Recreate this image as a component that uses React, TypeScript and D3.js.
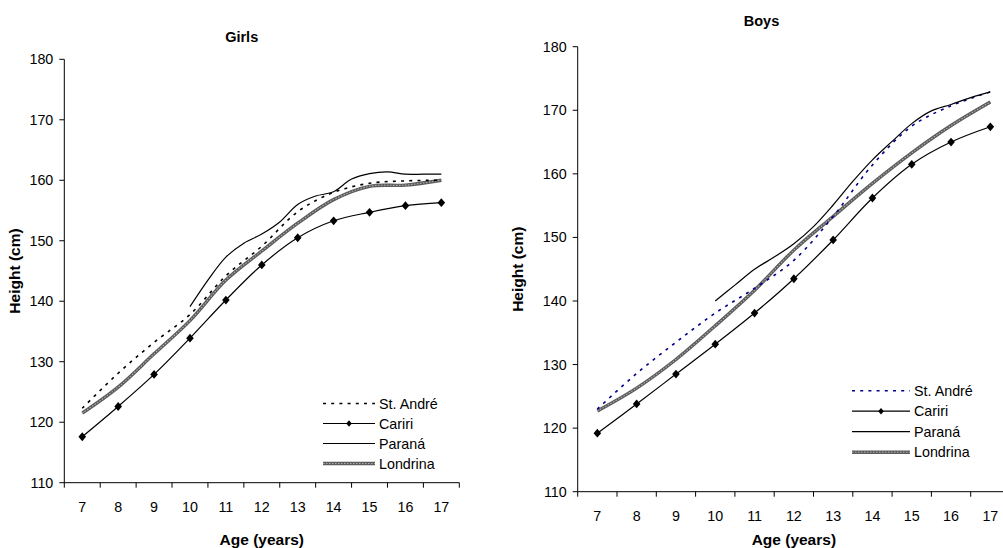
import React from 'react';
import * as d3 from 'd3';

// Ages (years) shown on the x axis
const AGES = [7, 8, 9, 10, 11, 12, 13, 14, 15, 16, 17];
// Paraná curves are read at half-year steps from age 10
const PARANA_AGES = [10, 10.5, 11, 11.5, 12, 12.5, 13, 13.5, 14, 14.5, 15, 15.5, 16, 16.5, 17];
const Y_TICKS = [110, 120, 130, 140, 150, 160, 170, 180];
const SERIES_NAMES = ['St. André', 'Cariri', 'Paraná', 'Londrina'];

// Girls, height (cm)
const GIRLS_ST_ANDRE = [122.3, 128.1, 133.2, 137.8, 144.2, 149.1, 154.8, 158.0, 159.5, 159.9, 160.0];
const GIRLS_CARIRI = [117.6, 122.6, 127.9, 133.9, 140.2, 146.0, 150.5, 153.3, 154.7, 155.8, 156.3];
const GIRLS_PARANA = [139.1, 143.5, 147.3, 149.6, 151.1, 153.1, 156.0, 157.4, 158.1, 160.2, 161.1, 161.4, 161.0, 161.0, 161.0];
const GIRLS_LONDRINA = [121.5, 125.8, 131.3, 136.8, 143.5, 148.3, 152.9, 156.8, 159.0, 159.2, 160.0];

// Boys, height (cm)
const BOYS_ST_ANDRE = [123.0, 128.6, 133.5, 138.1, 142.0, 146.4, 153.3, 161.4, 167.5, 170.7, 172.9];
const BOYS_CARIRI = [119.2, 123.8, 128.5, 133.2, 138.1, 143.5, 149.6, 156.2, 161.5, 165.0, 167.4];
const BOYS_PARANA = [140.0, 142.5, 145.0, 146.9, 149.0, 151.7, 155.1, 158.8, 162.2, 165.1, 167.9, 169.9, 170.9, 172.0, 172.9];
const BOYS_LONDRINA = [122.7, 126.3, 130.8, 136.1, 141.7, 148.0, 153.3, 158.5, 163.3, 167.6, 171.3];

const FONT = "'Liberation Sans', Arial, Helvetica, sans-serif";
const LONDRINA_DARK = '#5c5c5c';
const LONDRINA_LIGHT = '#b0b0b0';

type Pt = [number, number];

const zip = (xs: number[], ys: number[]): Pt[] => xs.map((x, i) => [x, ys[i]]);

function diamond(cx: number, cy: number, hw: number, hh: number) {
  return `M${cx},${cy - hh}L${cx + hw},${cy}L${cx},${cy + hh}L${cx - hw},${cy}Z`;
}

interface PanelProps {
  title: string;
  titleX: number;
  titleY: number;
  left: number;
  right: number;
  top: number;
  bottom: number;
  yLabelX: number;
  legendX: number;
  legendY: number;
  legendLen: number;
  legendStep: number;
  stAndreColor: string;
  stAndre: number[];
  cariri: number[];
  parana: number[];
  londrina: number[];
}

function Panel(p: PanelProps) {
  const x = d3.scaleLinear().domain([6.5, 17.5]).range([p.left, p.right]);
  const y = d3.scaleLinear().domain([110, 180]).range([p.bottom, p.top]);
  const line = d3
    .line<Pt>()
    .x((d) => x(d[0]))
    .y((d) => y(d[1]))
    .curve(d3.curveCatmullRom.alpha(0.5));

  const boundaries = d3.range(6.5, 17.51, 1);
  const londrinaPath = line(zip(AGES, p.londrina)) || '';
  const stAndrePath = line(zip(AGES, p.stAndre)) || '';
  const caririPts = zip(AGES, p.cariri);
  const caririPath = line(caririPts) || '';
  const paranaPath = line(zip(PARANA_AGES, p.parana)) || '';
  const midX = (p.left + p.right) / 2;
  const midY = (p.top + p.bottom) / 2;

  const lx0 = p.legendX;
  const lx1 = p.legendX + p.legendLen;
  const rows = SERIES_NAMES.map((name, i) => ({ name, cy: p.legendY + i * p.legendStep }));

  return (
    <g fontFamily={FONT} fill="#000">
      <text x={p.titleX} y={p.titleY} textAnchor="middle" fontSize={14.5} fontWeight="bold">
        {p.title}
      </text>

      {/* axes */}
      <line x1={p.left} x2={p.left} y1={p.top} y2={p.bottom} stroke="#000" strokeWidth={1} />
      <line x1={p.left} x2={p.right} y1={p.bottom} y2={p.bottom} stroke="#000" strokeWidth={1} />
      {Y_TICKS.map((t) => (
        <g key={`y${t}`}>
          <line x1={p.left - 5} x2={p.left} y1={y(t)} y2={y(t)} stroke="#000" />
          <text x={p.left - 11} y={y(t)} dy="0.35em" textAnchor="end" fontSize={14.3}>
            {t}
          </text>
        </g>
      ))}
      {boundaries.map((b) => (
        <line key={`xb${b}`} x1={x(b)} x2={x(b)} y1={p.bottom} y2={p.bottom + 5} stroke="#000" />
      ))}
      {AGES.map((a) => (
        <text key={`x${a}`} x={x(a)} y={p.bottom + 29} textAnchor="middle" fontSize={14.3}>
          {a}
        </text>
      ))}
      <text x={midX} y={545} textAnchor="middle" fontSize={15.5} fontWeight="bold">
        Age (years)
      </text>
      <text
        transform={`translate(${p.yLabelX},${midY}) rotate(-90)`}
        textAnchor="middle"
        fontSize={15.5}
        fontWeight="bold"
      >
        Height (cm)
      </text>

      {/* series */}
      <path d={londrinaPath} fill="none" stroke={LONDRINA_DARK} strokeWidth={3.4} />
      <path d={londrinaPath} fill="none" stroke={LONDRINA_LIGHT} strokeWidth={1.1} strokeDasharray="1.5 1.5" />
      <path d={stAndrePath} fill="none" stroke={p.stAndreColor} strokeWidth={1.6} strokeDasharray="3 5.2" />
      <path d={paranaPath} fill="none" stroke="#000" strokeWidth={1.2} />
      <path d={caririPath} fill="none" stroke="#000" strokeWidth={1.2} />
      {caririPts.map((d, i) => (
        <path key={`m${i}`} d={diamond(x(d[0]), y(d[1]), 3.8, 4.4)} fill="#000" />
      ))}

      {/* legend */}
      <line x1={lx0} x2={lx1} y1={rows[0].cy} y2={rows[0].cy} stroke={p.stAndreColor} strokeWidth={1.6} strokeDasharray="3 5.2" />
      <line x1={lx0} x2={lx1} y1={rows[1].cy} y2={rows[1].cy} stroke="#000" strokeWidth={1.2} />
      <path d={diamond((lx0 + lx1) / 2, rows[1].cy, 2.8, 3.3)} fill="#000" />
      <line x1={lx0} x2={lx1} y1={rows[2].cy} y2={rows[2].cy} stroke="#000" strokeWidth={1.2} />
      <line x1={lx0} x2={lx1} y1={rows[3].cy} y2={rows[3].cy} stroke={LONDRINA_DARK} strokeWidth={3.4} />
      <line x1={lx0} x2={lx1} y1={rows[3].cy} y2={rows[3].cy} stroke={LONDRINA_LIGHT} strokeWidth={1.1} strokeDasharray="1.5 1.5" />
      {rows.map((r) => (
        <text key={r.name} x={lx1 + 4} y={r.cy} dy="0.35em" fontSize={14.3}>
          {r.name}
        </text>
      ))}
    </g>
  );
}

export default function App() {
  return (
    <svg
      width={1003}
      height={548}
      style={{ position: 'absolute', left: 0, top: 0, background: '#fff' }}
    >
      <rect width={1003} height={548} fill="#fff" />
      <Panel
        title="Girls"
        titleX={241.7}
        titleY={41.5}
        left={64.3}
        right={459.3}
        top={59.3}
        bottom={482.7}
        yLabelX={20}
        legendX={323}
        legendY={403.5}
        legendLen={52}
        legendStep={20}
        stAndreColor="#000"
        stAndre={GIRLS_ST_ANDRE}
        cariri={GIRLS_CARIRI}
        parana={GIRLS_PARANA}
        londrina={GIRLS_LONDRINA}
      />
      <Panel
        title="Boys"
        titleX={761.5}
        titleY={26}
        left={577.7}
        right={1010}
        top={46.7}
        bottom={491.7}
        yLabelX={523}
        legendX={852}
        legendY={390.7}
        legendLen={58}
        legendStep={20.5}
        stAndreColor="#00008b"
        stAndre={BOYS_ST_ANDRE}
        cariri={BOYS_CARIRI}
        parana={BOYS_PARANA}
        londrina={BOYS_LONDRINA}
      />
    </svg>
  );
}
